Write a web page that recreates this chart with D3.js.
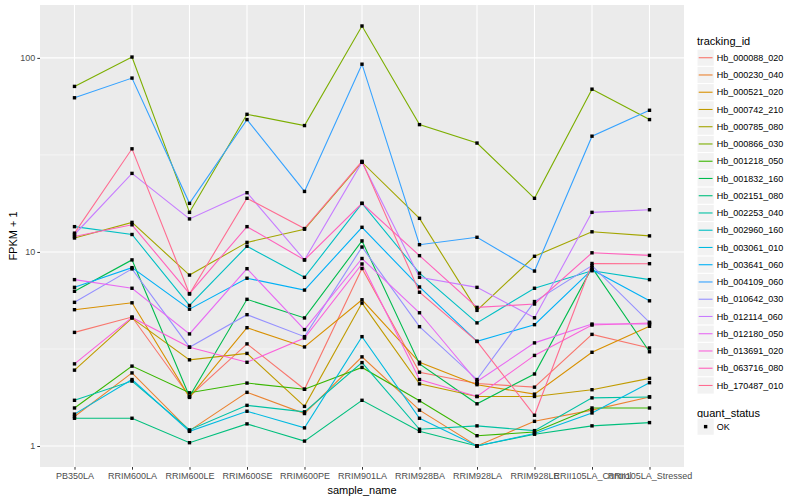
<!DOCTYPE html>
<html><head><meta charset="utf-8">
<script src="https://cdn.jsdelivr.net/npm/d3@7"></script>
<style>body{margin:0;background:#fff} text{font-family:"Liberation Sans",Arial,sans-serif}</style>
</head><body><svg id="c" width="800" height="500"></svg>
<script>
const categories = ["PB350LA","RRIM600LA","RRIM600LE","RRIM600SE","RRIM600PE","RRIM901LA","RRIM928BA","RRIM928LA","RRIM928LE","RRII105LA_Control","RRII105LA_Stressed"];
const trackingIds = ["Hb_000088_020","Hb_000230_040","Hb_000521_020","Hb_000742_210","Hb_000785_080","Hb_000866_030","Hb_001218_050","Hb_001832_160","Hb_002151_080","Hb_002253_040","Hb_002960_160","Hb_003061_010","Hb_003641_060","Hb_004109_060","Hb_010642_030","Hb_012114_060","Hb_012180_050","Hb_013691_020","Hb_063716_080","Hb_170487_010"];

const hb_000088_020 = [3.85, 4.62, 1.8, 3.36, 1.96, 8.22, 2.4, 2.1, 2.01, 3.76, 3.2];
const hb_000230_040 = [1.42, 2.38, 1.2, 1.89, 1.47, 2.88, 1.53, 1.0, 1.34, 1.53, 1.79];
const hb_000521_020 = [5.04, 5.47, 1.78, 4.07, 3.24, 5.67, 2.7, 2.07, 1.85, 3.04, 4.14];
const hb_000742_210 = [2.46, 4.56, 2.78, 3.0, 1.6, 5.45, 2.09, 1.8, 1.8, 1.95, 2.23];
const hb_000785_080 = [11.8, 14.2, 7.6, 11.2, 13.1, 29, 14.9, 5.0, 9.5, 12.7, 12.1];
const hb_000866_030 = [71.3, 101, 16.0, 51.2, 44.8, 146, 45.3, 36.4, 18.9, 69, 48.1];
const hb_001218_050 = [1.57, 2.58, 1.88, 2.11, 1.96, 2.54, 1.71, 1.13, 1.18, 1.57, 1.57];
const hb_001832_160 = [6.27, 9.1, 1.8, 5.7, 4.57, 11.4, 2.65, 1.65, 2.35, 8.3, 3.06];
const hb_002151_080 = [1.39, 1.39, 1.04, 1.30, 1.06, 1.72, 1.19, 1.0, 1.15, 1.27, 1.32];
const hb_002253_040 = [1.72, 2.16, 1.21, 1.62, 1.5, 2.69, 1.22, 1.27, 1.2, 1.77, 1.79];
const hb_002960_160 = [13.5, 12.3, 5.3, 10.7, 7.4, 17.8, 7.77, 4.31, 6.5, 8.0, 7.2];
const hb_003061_010 = [1.46, 2.2, 1.19, 1.51, 1.24, 3.66, 1.39, 1.0, 1.16, 1.48, 2.12];
const hb_003641_060 = [6.57, 8.3, 5.07, 7.32, 6.36, 13.4, 6.6, 3.46, 4.22, 8.1, 5.6];
const hb_004109_060 = [62.3, 78.7, 17.8, 48.1, 20.5, 92.8, 10.9, 11.9, 7.97, 39.5, 53.7];
const hb_010642_030 = [5.5, 8.18, 3.23, 4.75, 3.66, 10.6, 4.12, 2.2, 5.55, 8.5, 4.34];
const hb_012114_060 = [12.3, 25.4, 14.8, 20.2, 9.1, 29, 7.4, 6.57, 4.58, 16, 16.5];
const hb_012180_050 = [7.2, 6.5, 3.78, 8.2, 3.98, 9.25, 4.86, 2.15, 3.4, 4.25, 4.25];
const hb_013691_020 = [2.65, 4.6, 3.23, 2.7, 3.6, 8.67, 2.2, 1.8, 2.93, 4.2, 4.3];
const hb_063716_080 = [12.0, 13.8, 6.1, 13.5, 9.1, 17.8, 9.57, 5.18, 5.39, 9.9, 9.6];
const hb_170487_010 = [12.5, 34, 6.07, 18.9, 13.2, 29.3, 6.2, 3.46, 1.44, 8.72, 8.7];

const seriesValues = [hb_000088_020, hb_000230_040, hb_000521_020, hb_000742_210, hb_000785_080, hb_000866_030, hb_001218_050, hb_001832_160, hb_002151_080, hb_002253_040, hb_002960_160, hb_003061_010, hb_003641_060, hb_004109_060, hb_010642_030, hb_012114_060, hb_012180_050, hb_013691_020, hb_063716_080, hb_170487_010];
const yTicks = [1, 10, 100];
const yTickLabels = ["1", "10", "100"];
const statusLabels = ["OK"];

const palette = ["#F8766D","#EA8331","#D89000","#C09B00","#A3A500","#7CAE00","#39B600","#00BB4E","#00BF7D","#00C1A3","#00BFC4","#00BAE0","#00B0F6","#35A2FF","#9590FF","#C77CFF","#E76BF3","#FA62DB","#FF62BC","#FF6C91"];

const series = trackingIds.map((id, i) => ({id, color: palette[i], values: seriesValues[i].map((v, j) => ({cat: categories[j], v}))}));

const svg = d3.select("#c");
const P = {left: 40, right: 684, top: 5, bottom: 467};

const x = d3.scalePoint().domain(categories).range([P.left, P.right]).padding(0.6);
const allVals = seriesValues.flat();
const lmin = Math.log10(d3.min(allVals)), lmax = Math.log10(d3.max(allVals));
const pad = (lmax - lmin) * 0.05;
const y = d3.scaleLog().domain([Math.pow(10, lmin - pad), Math.pow(10, lmax + pad)]).range([P.bottom, P.top]);

// panel
svg.append("rect").attr("x", P.left).attr("y", P.top).attr("width", P.right - P.left).attr("height", P.bottom - P.top).attr("fill", "#EBEBEB");
// minor grid
const minor = d3.pairs(yTicks).map(([a, b]) => Math.sqrt(a * b));
svg.append("g").selectAll("line").data(minor).join("line")
  .attr("x1", P.left).attr("x2", P.right).attr("y1", d => y(d)).attr("y2", d => y(d))
  .attr("stroke", "#fff").attr("stroke-width", 0.55);
svg.append("g").selectAll("line").data(yTicks).join("line")
  .attr("x1", P.left).attr("x2", P.right).attr("y1", d => y(d)).attr("y2", d => y(d))
  .attr("stroke", "#fff").attr("stroke-width", 1.1);
svg.append("g").selectAll("line").data(categories).join("line")
  .attr("x1", d => x(d)).attr("x2", d => x(d)).attr("y1", P.top).attr("y2", P.bottom)
  .attr("stroke", "#fff").attr("stroke-width", 1.1);

// lines
const line = d3.line().x(d => x(d.cat)).y(d => y(d.v));
svg.append("g").selectAll("path").data(series).join("path")
  .attr("d", d => line(d.values)).attr("fill", "none").attr("stroke", d => d.color).attr("stroke-width", 1.1);
// points
const pts = series.flatMap(s => s.values);
const ps = 3.4;
svg.append("g").selectAll("rect").data(pts).join("rect")
  .attr("x", d => x(d.cat) - ps / 2).attr("y", d => y(d.v) - ps / 2).attr("width", ps).attr("height", ps).attr("fill", "#000");

// axes
const yAxis = d3.axisLeft(y).tickValues(yTicks).tickFormat((d, i) => yTickLabels[i]).tickSize(2.7).tickPadding(2);
const gy = svg.append("g").attr("transform", `translate(${P.left},0)`).call(yAxis);
gy.select(".domain").remove();
gy.selectAll("line").attr("stroke", "#333").attr("stroke-width", 1);
gy.selectAll("text").attr("fill", "#4D4D4D").style("font-size", "9px").style("font-family", "Liberation Sans, Arial, sans-serif");

const xAxis = d3.axisBottom(x).tickSize(2.7).tickPadding(2.5);
const gx = svg.append("g").attr("transform", `translate(0,${P.bottom})`).call(xAxis);
gx.select(".domain").remove();
gx.selectAll("line").attr("stroke", "#333").attr("stroke-width", 1);
gx.selectAll("text").attr("fill", "#4D4D4D").style("font-size", "9px").style("font-family", "Liberation Sans, Arial, sans-serif");

svg.append("text").attr("x", (P.left + P.right) / 2).attr("y", 494).attr("text-anchor", "middle").style("font-size", "11px").text("sample_name");
svg.append("text").attr("transform", `translate(17,${(P.top + P.bottom) / 2}) rotate(-90)`).attr("text-anchor", "middle").style("font-size", "11px").text("FPKM + 1");

// legend
const LX = 697, ks = 17.25;
svg.append("text").attr("x", LX).attr("y", 44.5).style("font-size", "11px").text("tracking_id");
const lg = svg.append("g").selectAll("g").data(series).join("g")
  .attr("transform", (d, i) => `translate(${LX},${49.1 + i * ks})`);
lg.append("rect").attr("width", ks).attr("height", ks).attr("fill", "#F2F2F2").attr("stroke", "#fff").attr("stroke-width", 1);
lg.append("line").attr("x1", 1.7).attr("x2", ks - 1.7).attr("y1", ks / 2).attr("y2", ks / 2).attr("stroke", d => d.color).attr("stroke-width", 1.1);
lg.append("text").attr("x", ks + 2.5).attr("y", ks / 2).attr("dy", "0.35em").style("font-size", "9px").text(d => d.id);

svg.append("text").attr("x", LX).attr("y", 416.5).style("font-size", "11px").text("quant_status");
const sg = svg.append("g").selectAll("g").data(statusLabels).join("g")
  .attr("transform", (d, i) => `translate(${LX},${418 + i * ks})`);
sg.append("rect").attr("width", ks).attr("height", ks).attr("fill", "#F2F2F2").attr("stroke", "#fff");
sg.append("rect").attr("x", ks / 2 - ps / 2).attr("y", ks / 2 - ps / 2).attr("width", ps).attr("height", ps).attr("fill", "#000");
sg.append("text").attr("x", ks + 2.5).attr("y", ks / 2).attr("dy", "0.35em").style("font-size", "9px").text(d => d);
</script></body></html>
